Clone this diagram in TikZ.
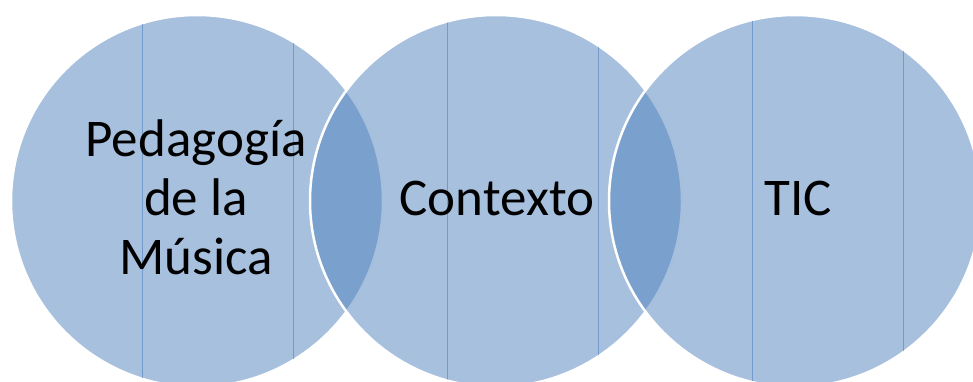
\documentclass[tikz,border=0pt]{standalone}
\usepackage{fontspec}
\setmainfont{Carlito}
\usepackage{xcolor}
\usepackage{tikz}
\usetikzlibrary{positioning}
\definecolor{vennblue}{RGB}{79,129,189}
\tikzset{
  venn/.style={circle, minimum size=372pt, inner sep=0pt, fill=vennblue, fill opacity=0.5, draw=white, line width=2.5pt},
  vlabel/.style={font=\fontsize{53}{59}\selectfont, align=center, text=black},
  seam/.style={draw=vennblue, draw opacity=0.6, line width=0.9pt}
}

\begin{document}
\begin{tikzpicture}[x=1pt, y=1pt]
\useasboundingbox (0,0) rectangle (973,381);
% the three sets
\node[venn] (ped) at (197,180) {};
\node[venn] (ctx) at (496,180) {};
\node[venn] (tic) at (795,180) {};
% thin vertical seams inside each circle
\foreach \cx/\a/\b in {197/142/293, 496/447/598, 795/752/903} {
  \begin{scope}
    \clip (\cx,180) circle[radius=185pt];
    \draw[seam] (\a,0) -- (\a,381);
    \draw[seam] (\b,0) -- (\b,381);
  \end{scope}
}
% labels
\node[vlabel] (pedtxt) at (196,184) {Pedagogía\\de la\\Música};
\node[vlabel, anchor=base] (ctxtxt) at (497,166) {Contexto};
\node[vlabel, anchor=base] (tictxt) at (798,166) {TIC};
\end{tikzpicture}
\end{document}
